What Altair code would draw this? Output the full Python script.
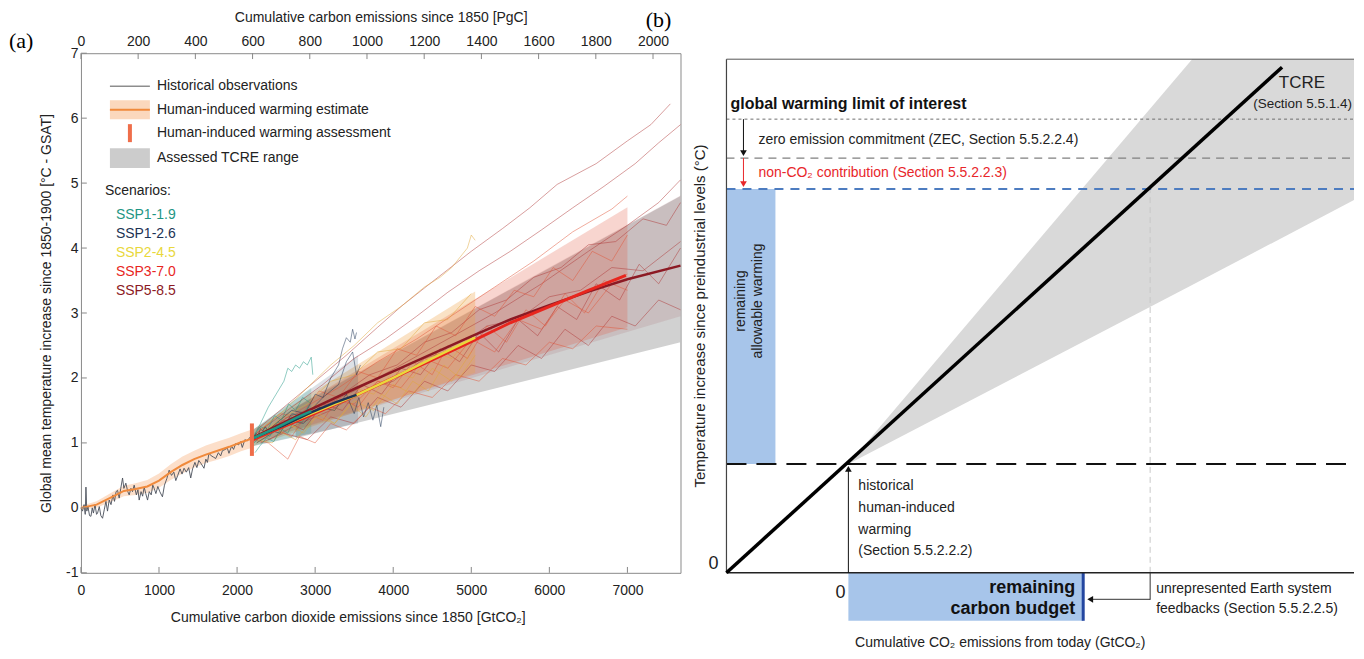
import altair as alt
import pandas as pd

FONT = "Liberation Sans"
NARROW = "Liberation Sans Narrow, Liberation Sans, sans-serif"
SERIF = "Liberation Serif"

# ======================= Panel (a) values =======================
co2_ticks = [0, 1000, 2000, 3000, 4000, 5000, 6000, 7000]
temp_ticks = [-1, 0, 1, 2, 3, 4, 5, 6, 7]
pgc_ticks = [0, 200, 400, 600, 800, 1000, 1200, 1400, 1600, 1800, 2000]
x_max_gtco2 = 7680
gtco2_per_pgc = 3.664

ssp_names = ["SSP1-1.9", "SSP1-2.6", "SSP2-4.5", "SSP3-7.0", "SSP5-8.5"]
ssp_colors = ["#1e9684", "#1d3354", "#e9d83c", "#e8261e", "#8c1a24"]

# historical observations
hist_x = [0, 20, 40, 55, 64, 75, 90, 110, 128, 145, 160, 180, 200, 213, 235, 255, 277, 300, 320, 340,
          362, 385, 410, 430, 450, 469, 490, 510, 533, 550, 575, 600, 618, 640, 660, 682, 710, 730, 746, 770,
          790, 810, 830, 853, 875, 900, 920, 938, 960, 985, 1010, 1044, 1070, 1100, 1130, 1160, 1190, 1215, 1240, 1270,
          1295, 1321, 1350, 1380, 1406, 1430, 1460, 1485, 1510, 1540, 1576, 1600, 1620, 1640, 1670, 1700, 1726, 1760, 1790, 1812,
          1850, 1875, 1896, 1930, 1955, 1982, 2020, 2045, 2067, 2100, 2130, 2152, 2180, 2210, 2240, 2270, 2300, 2330, 2360, 2390]
hist_y = [0.0, -0.05, 0.05, -0.1, 0.32, -0.05, 0.02, -0.12, -0.13, 0.0, -0.08, 0.05, -0.1, -0.08, 0.02, -0.12, -0.16, -0.02, 0.1, -0.05,
          0.12, 0.05, 0.2, 0.1, 0.25, 0.27, 0.15, 0.3, 0.46, 0.3, 0.38, 0.25, 0.2, 0.3, 0.25, 0.35, 0.2, 0.28, 0.12, 0.25,
          0.18, 0.32, 0.22, 0.12, 0.25, 0.2, 0.35, 0.3, 0.22, 0.33, 0.25, 0.17, 0.35, 0.45, 0.58, 0.5, 0.55, 0.42, 0.5, 0.6,
          0.52, 0.61, 0.55, 0.62, 0.46, 0.6, 0.7, 0.62, 0.73, 0.68, 0.61, 0.75, 0.7, 0.84, 0.8, 0.78, 0.76, 0.85, 0.8, 0.88,
          0.9, 0.92, 0.84, 0.95, 0.9, 0.99, 0.97, 1.02, 0.93, 1.05, 1.03, 1.07, 1.1, 1.02, 1.15, 1.12, 1.22, 1.18, 1.25, 1.2]

# human-induced warming estimate and range
hiw_x = [0, 200, 400, 550, 700, 850, 1000, 1150, 1300, 1450, 1600, 1750, 1900, 2050, 2200]
hiw_y = [0.0, 0.05, 0.17, 0.26, 0.29, 0.33, 0.42, 0.55, 0.66, 0.75, 0.82, 0.88, 0.94, 1.01, 1.07]
hiw_lo = [-0.03, 0.0, 0.1, 0.18, 0.2, 0.23, 0.31, 0.43, 0.53, 0.62, 0.69, 0.74, 0.8, 0.87, 0.93]
hiw_hi = [0.03, 0.1, 0.24, 0.34, 0.38, 0.43, 0.53, 0.67, 0.79, 0.88, 0.96, 1.02, 1.08, 1.15, 1.21]

# human-induced warming assessment (bar)
assess_x = [2190]
assess_lo = [0.8]
assess_hi = [1.3]

# assessed TCRE range
tcre_x = [2750, 7680]
tcre_lo = [1.07, 2.55]
tcre_hi = [1.55, 4.8]

# scenario ranges
band119_x = [2200, 2950]
band119_lo = [0.95, 1.15]
band119_hi = [1.2, 1.85]
band126_x = [2200, 3550]
band126_lo = [0.95, 1.3]
band126_hi = [1.2, 2.35]
band245_x = [2200, 5050]
band245_lo = [0.95, 2.08]
band245_hi = [1.2, 3.33]
band370_x = [2200, 7000]
band370_lo = [1.0, 2.78]
band370_hi = [1.15, 4.63]
band585_x = [2200, 7680]
band585_lo = [1.0, 2.95]
band585_hi = [1.2, 4.81]

# scenario means
mean119_x = [2200, 2500, 2750, 2950]
mean119_y = [1.07, 1.23, 1.38, 1.49]
mean126_x = [2200, 2600, 2950, 3250, 3530]
mean126_y = [1.07, 1.27, 1.47, 1.62, 1.74]
mean245_x = [2200, 2950, 3500, 4000, 4500, 5050]
mean245_y = [1.07, 1.45, 1.72, 2.0, 2.3, 2.62]
mean370_x = [2200, 2950, 3500, 4000, 4500, 5000, 5500, 6000, 6500, 6980]
mean370_y = [1.05, 1.43, 1.72, 2.0, 2.28, 2.56, 2.85, 3.1, 3.35, 3.58]
mean585_x = [2200, 2950, 3500, 4000, 4500, 5000, 5500, 6000, 6500, 7000, 7680]
mean585_y = [1.08, 1.52, 1.83, 2.1, 2.37, 2.64, 2.9, 3.12, 3.33, 3.52, 3.73]

# individual model runs
runs119_x = [[2200, 2300, 2400, 2500, 2600, 2650, 2700, 2750, 2800, 2850, 2900, 2950, 2970],
             [2220, 2320, 2420, 2520, 2620, 2720, 2820, 2920],
             [2230, 2290, 2380, 2470, 2560, 2650, 2740, 2830, 2920],
             [2210, 2300, 2390, 2480, 2570, 2660, 2750, 2840, 2930]]
runs119_y = [[1.07, 1.3, 1.55, 1.75, 1.95, 2.15, 2.1, 2.2, 2.15, 2.25, 2.2, 2.32, 2.05],
             [1.0, 1.15, 1.1, 1.32, 1.25, 1.45, 1.38, 1.58],
             [0.85, 0.95, 1.08, 1.02, 1.22, 1.15, 1.38, 1.32, 1.45],
             [1.1, 1.25, 1.2, 1.42, 1.35, 1.6, 1.5, 1.7, 1.62]]
runs126_x = [[2250, 2400, 2550, 2700, 2850, 3000, 3100, 3200, 3300, 3350, 3400, 3450, 3480, 3510, 3530],
             [2250, 2450, 2650, 2850, 3050, 3250, 3400, 3500, 3560, 3620, 3680, 3740, 3790, 3840, 3880],
             [2300, 2500, 2700, 2900, 3100, 3300, 3400, 3480, 3530, 3580]]
runs126_y = [[1.05, 1.2, 1.15, 1.45, 1.4, 1.75, 1.7, 2.0, 2.2, 2.45, 2.62, 2.55, 2.75, 2.6, 2.7],
             [1.0, 1.15, 1.35, 1.3, 1.55, 1.5, 1.75, 1.45, 1.7, 1.4, 1.62, 1.35, 1.58, 1.25, 1.55],
             [1.1, 1.3, 1.5, 1.45, 1.7, 1.9, 2.25, 2.4, 2.05, 2.2]]
runs245_x = [[2300, 2600, 2900, 3200, 3500, 3800, 4100, 4400, 4600, 4750, 4850, 4950, 5000, 5050],
             [2250, 2500, 2750, 3000, 3250, 3500, 3750, 4000, 4250, 4500, 4750, 5000],
             [2250, 2500, 2750, 3000, 3250, 3500, 3750, 4000, 4250, 4500, 4750, 5000],
             [2300, 2600, 2900, 3200, 3500, 3800, 4100, 4400, 4700, 5000],
             [2250, 2450, 2650, 2850, 3050, 3250, 3450, 3650, 3850, 4050, 4250, 4450, 4650, 4850, 5050]]
runs245_y = [[1.2, 1.5, 1.85, 2.2, 2.5, 2.85, 3.1, 3.4, 3.55, 3.7, 3.85, 4.0, 4.2, 4.12],
             [1.1, 1.3, 1.25, 1.6, 1.5, 1.85, 1.75, 2.1, 2.0, 2.4, 2.3, 2.65],
             [1.0, 1.2, 1.05, 1.4, 1.3, 1.65, 1.5, 1.9, 1.75, 2.15, 1.95, 2.4],
             [1.15, 1.4, 1.6, 1.95, 2.05, 2.4, 2.45, 2.85, 2.9, 3.3],
             [1.05, 1.0, 1.3, 1.15, 1.45, 1.3, 1.6, 1.4, 1.75, 1.6, 1.95, 1.8, 2.2, 2.0, 2.35]]
runs370_x = [[2250, 2500, 2700, 2900, 3100, 3300, 3550, 3800, 4000, 4250, 4500, 4700, 4950, 5200, 5450, 5700, 5950, 6200, 6450, 6700, 7000],
             [2250, 2550, 2800, 3050, 3300, 3550, 3800, 4050, 4300, 4550, 4800, 5050, 5300, 5550, 5800, 6050, 6300, 6550, 6800, 7000],
             [2200, 2400, 2650, 2800, 3000, 3200, 3400, 3700, 3900, 4200, 4500, 4800, 5100, 5400, 5700, 6000, 6300, 6600, 7000],
             [2250, 2800, 3300, 3800, 4300, 4800, 5300, 5800, 6300, 6800, 7000],
             [2300, 2600, 2900, 3200, 3500, 3800, 4100, 4400, 4700, 5000, 5300, 5600, 5900, 6200, 6500, 6800, 7000]]
runs370_y = [[1.05, 1.2, 1.1, 1.45, 1.35, 1.7, 1.55, 1.95, 1.85, 2.25, 2.05, 2.5, 2.3, 2.8, 2.55, 3.05, 2.8, 3.3, 3.0, 3.5, 3.35],
             [1.15, 1.45, 1.4, 1.8, 1.7, 2.1, 2.0, 2.45, 2.35, 2.8, 2.65, 3.1, 2.95, 3.35, 3.25, 3.7, 3.5, 3.95, 3.8, 4.2],
             [1.05, 1.0, 0.75, 1.1, 1.0, 1.3, 1.2, 1.55, 1.45, 1.8, 1.7, 2.05, 1.95, 2.3, 2.2, 2.55, 2.45, 2.8, 2.75],
             [1.1, 1.5, 1.85, 2.25, 2.6, 3.0, 3.4, 3.8, 4.25, 4.6, 4.8],
             [1.1, 1.4, 1.35, 1.65, 1.6, 1.95, 1.85, 2.3, 2.15, 2.6, 2.4, 2.9, 2.75, 3.2, 3.0, 3.45, 3.6]]
runs585_x = [[2250, 2600, 3000, 3400, 3800, 4100, 4500, 5000, 5400, 5750, 6100, 6600, 7000, 7300, 7550],
             [2250, 2700, 3100, 3500, 3900, 4300, 4700, 5100, 5500, 5900, 6300, 6700, 7100, 7400, 7680],
             [2300, 2900, 3500, 4100, 4700, 5300, 5900, 6500, 7000, 7400, 7680],
             [2300, 2600, 2850, 3100, 3350, 3600, 3850, 4100, 4350, 4600, 4850, 5100, 5350, 5600, 5850, 6100, 6350, 6600, 6900, 7150, 7400, 7680],
             [2300, 2600, 2900, 3200, 3500, 3800, 4100, 4400, 4700, 5000, 5300, 5600, 5900, 6200, 6500, 6800, 7100, 7400, 7680],
             [2300, 2650, 3000, 3350, 3700, 4050, 4400, 4750, 5100, 5450, 5800, 6150, 6500, 6850, 7200, 7500, 7680],
             [2400, 2800, 3200, 3600, 4000, 4400, 4800, 5200, 5600, 6000, 6400, 6800, 7200, 7680]]
runs585_y = [[1.2, 1.55, 1.95, 2.35, 2.78, 3.1, 3.48, 3.95, 4.3, 4.62, 4.98, 5.3, 5.65, 5.9, 6.22],
             [1.15, 1.55, 1.9, 2.3, 2.6, 2.95, 3.32, 3.65, 3.95, 4.28, 4.62, 4.95, 5.3, 5.62, 5.9],
             [1.1, 1.45, 1.8, 2.2, 2.6, 3.0, 3.45, 3.95, 4.35, 4.7, 5.05],
             [1.1, 1.35, 1.2, 1.6, 1.5, 1.9, 1.75, 2.15, 2.05, 2.45, 2.25, 2.7, 2.4, 2.9, 2.65, 3.1, 2.9, 3.45, 3.2, 3.75, 3.45, 4.0],
             [1.0, 1.15, 1.05, 1.4, 1.3, 1.7, 1.55, 1.95, 1.8, 2.2, 2.1, 2.5, 2.3, 2.75, 2.5, 2.95, 2.8, 3.2, 3.05],
             [1.12, 1.4, 1.55, 1.75, 2.05, 2.2, 2.55, 2.7, 3.05, 3.2, 3.55, 3.7, 4.05, 4.1, 4.45, 4.35, 4.7],
             [1.05, 1.3, 1.5, 1.8, 1.95, 2.3, 2.45, 2.8, 2.9, 3.25, 3.35, 3.7, 3.65, 4.1]]

legend_labels = ["Historical observations", "Human-induced warming estimate",
                 "Human-induced warming assessment", "Assessed TCRE range"]

# ======================= Panel (b) values (schematic units) =======================
b_x_domain = [-1.22, 5.06]
b_y_domain = [0.0, 5.20]
b_box_top = 5.14
b_tcre_x = [-1.22, 4.34]
b_tcre_y = [0.0, 5.06]
b_cone_x = [0.0, 3.44, 5.06]
b_cone_lo = [1.09, 2.88, 3.73]
b_cone_hi = [1.09, 5.14, 5.14]
b_level_limit = 4.54
b_level_zec = 4.15
b_level_budget = 3.84
b_level_hist = 1.09
b_budget_end = 2.35
b_feedback_x = 3.02
b_budget_depth = -0.48

# ======================= Panel (a) chart =======================
xs = alt.Scale(domain=[0, x_max_gtco2], nice=False, zero=False)
ys = alt.Scale(domain=[-1, 7], nice=False, zero=False)
x_axis = alt.Axis(values=co2_ticks, labelExpr="'' + datum.value", labelFlush=False,
                  title="Cumulative carbon dioxide emissions since 1850 [GtCO₂]",
                  ticks=False, domain=False, grid=False, labelFontSize=14, labelPadding=11,
                  labelColor="#222", titleFontSize=14, titleFontWeight="normal", titleColor="#222",
                  titlePadding=13, titleX=267, labelFont=FONT, titleFont=FONT)
y_axis = alt.Axis(values=temp_ticks, labelExpr="'' + datum.value",
                  title="Global mean temperature increase since 1850-1900 [°C - GSAT]",
                  ticks=False, domain=False, grid=False, labelFontSize=14, labelPadding=3,
                  labelColor="#222", titleFontSize=14, titleFontWeight="normal", titleColor="#222",
                  titlePadding=12, labelFont=FONT, titleFont=FONT)


def XE(field="X"):
    return alt.X(f"{field}:Q", scale=xs, axis=x_axis)


def YE(field="Y"):
    return alt.Y(f"{field}:Q", scale=ys, axis=y_axis)


def band(xv, lo, hi, color, opacity):
    df = pd.DataFrame({"X": xv, "Y": lo, "Y2": hi})
    return alt.Chart(df).mark_area(color=color, opacity=opacity).encode(x=XE(), y=YE(), y2="Y2:Q")


def line(xv, yv, color, width, opacity=1.0):
    df = pd.DataFrame({"X": xv, "Y": yv, "i": list(range(len(xv)))})
    return alt.Chart(df).mark_line(color=color, strokeWidth=width, opacity=opacity).encode(
        x=XE(), y=YE(), order="i:Q")


def runs(rx, ry, color, tag):
    rows = []
    for k, (xx, yy) in enumerate(zip(rx, ry)):
        for i, (a, b) in enumerate(zip(xx, yy)):
            rows.append({"X": a, "Y": b, "run": f"{tag}{k}", "i": i})
    df = pd.DataFrame(rows)
    return alt.Chart(df).mark_line(color=color, strokeWidth=0.9, opacity=0.55).encode(
        x=XE(), y=YE(), detail="run:N", order="i:Q")


a_layers = [
    band(hiw_x, hiw_lo, hiw_hi, "#f8b98a", 0.45),
    band(tcre_x, tcre_lo, tcre_hi, "#bdbdbd", 0.7),
    band(band585_x, band585_lo, band585_hi, ssp_colors[4], 0.1),
    band(band370_x, band370_lo, band370_hi, "#e4583e", 0.25),
    band(band245_x, band245_lo, band245_hi, "#f0a040", 0.3),
    band(band126_x, band126_lo, band126_hi, ssp_colors[1], 0.15),
    band(band119_x, band119_lo, band119_hi, ssp_colors[0], 0.2),
    line(hist_x, hist_y, "#4a4f5a", 0.9),
    runs(runs585_x, runs585_y, "#b03a3a", "r585_"),
    runs(runs370_x, runs370_y, "#e0553a", "r370_"),
    runs(runs245_x, runs245_y, "#e0a83a", "r245_"),
    runs(runs126_x, runs126_y, ssp_colors[1], "r126_"),
    runs(runs119_x, runs119_y, ssp_colors[0], "r119_"),
    line(hiw_x, hiw_y, "#f08a3c", 2),
    line(mean585_x, mean585_y, ssp_colors[4], 2.5),
    line(mean370_x, mean370_y, ssp_colors[3], 3),
    line(mean245_x, mean245_y, ssp_colors[2], 2.5),
    line(mean126_x, mean126_y, ssp_colors[1], 2.5),
    line(mean119_x, mean119_y, ssp_colors[0], 2.5),
]

# assessment bar
assess_df = pd.DataFrame({"X": assess_x, "Y": assess_lo, "Y2": assess_hi})
a_layers.append(alt.Chart(assess_df).mark_rule(color="#ef6e4a", strokeWidth=4).encode(
    x=XE(), y=YE(), y2="Y2:Q"))

# inward ticks
bt = pd.DataFrame({"X": co2_ticks, "Y": [-1] * len(co2_ticks), "Y2": [-0.91] * len(co2_ticks)})
a_layers.append(alt.Chart(bt).mark_rule(color="#888", strokeWidth=1).encode(x=XE(), y=YE(), y2="Y2:Q"))
lt = pd.DataFrame({"X": [0] * len(temp_ticks), "X2": [75] * len(temp_ticks), "Y": temp_ticks})
a_layers.append(alt.Chart(lt).mark_rule(color="#888", strokeWidth=1).encode(x=XE(), x2="X2:Q", y=YE()))

# legend (pixel positions relative to plot area)
one = pd.DataFrame({"k": [0]})


def ptext(txt, x, y, size=14, color="#222", align="left", font=FONT):
    return alt.Chart(one).mark_text(text=txt, fontSize=size, color=color, align=align,
                                    baseline="middle", font=font).encode(x=alt.value(x), y=alt.value(y))


a_layers.append(alt.Chart(one).mark_rule(color="#555", strokeWidth=1).encode(
    x=alt.value(29), x2=alt.value(69), y=alt.value(33)))
a_layers.append(alt.Chart(one).mark_rect(color="#fbd8bd").encode(
    x=alt.value(29), x2=alt.value(69), y=alt.value(47), y2=alt.value(66)))
a_layers.append(alt.Chart(one).mark_rule(color="#f08a3c", strokeWidth=2).encode(
    x=alt.value(29), x2=alt.value(69), y=alt.value(56.5)))
a_layers.append(alt.Chart(one).mark_rule(color="#ef6e4a", strokeWidth=4).encode(
    x=alt.value(49), y=alt.value(71), y2=alt.value(89)))
a_layers.append(alt.Chart(one).mark_rect(color="#cccccc").encode(
    x=alt.value(29), x2=alt.value(69), y=alt.value(95), y2=alt.value(115)))
for lab, yy in zip(legend_labels, [33, 56.5, 80, 105]):
    a_layers.append(ptext(lab, 76, yy))
a_layers.append(ptext("Scenarios:", 24, 138))
for name, col, yy in zip(ssp_names, ssp_colors, [161.5, 181, 200, 219, 238]):
    a_layers.append(ptext(name, 35, yy, color=col))

# panel labels
a_layers.append(ptext("(a)", -72, -12, size=22, font=SERIF, color="#000"))

main_a = alt.layer(*a_layers)

top_axis = alt.Axis(orient="top", values=pgc_ticks, labelExpr="'' + datum.value", labelFlush=False,
                    title="Cumulative carbon emissions since 1850 [PgC]", ticks=False, domain=False,
                    grid=False, labelFontSize=14, labelPadding=5, labelColor="#222", titleFontSize=14,
                    titleFontWeight="normal", titleColor="#222", titlePadding=10,
                    labelFont=FONT, titleFont=FONT)
tt = pd.DataFrame({"P": pgc_ticks, "Y": [7] * len(pgc_ticks), "Y2": [6.91] * len(pgc_ticks)})
top_a = alt.Chart(tt).mark_rule(color="#888", strokeWidth=1).encode(
    x=alt.X("P:Q", scale=alt.Scale(domain=[0, x_max_gtco2 / gtco2_per_pgc], nice=False, zero=False),
            axis=top_axis),
    y=YE(), y2="Y2:Q")

panel_a = alt.layer(main_a, top_a).resolve_scale(x="independent").properties(
    width=600, height=520, view=alt.ViewBackground(stroke="#8a8a8a", strokeWidth=1))

# ======================= Panel (b) chart =======================
xsb = alt.Scale(domain=b_x_domain, nice=False, zero=False)
ysb = alt.Scale(domain=b_y_domain, nice=False, zero=False)


def XB(field="X"):
    return alt.X(f"{field}:Q", scale=xsb, axis=None)


def YB(field="Y"):
    return alt.Y(f"{field}:Q", scale=ysb, axis=None)


def hrule(y, x0, x1, color, width, dash=None):
    df = pd.DataFrame({"X": [x0], "X2": [x1], "Y": [y]})
    kw = dict(color=color, strokeWidth=width)
    if dash:
        kw["strokeDash"] = dash
    return alt.Chart(df).mark_rule(**kw).encode(x=XB(), x2="X2:Q", y=YB())


def vrule(x, y0, y1, color, width, dash=None):
    df = pd.DataFrame({"X": [x], "Y": [y0], "Y2": [y1]})
    kw = dict(color=color, strokeWidth=width)
    if dash:
        kw["strokeDash"] = dash
    return alt.Chart(df).mark_rule(**kw).encode(x=XB(), y=YB(), y2="Y2:Q")


def brect(x0, x1, y0, y1, color):
    df = pd.DataFrame({"X": [x0], "X2": [x1], "Y": [y0], "Y2": [y1]})
    return alt.Chart(df).mark_rect(color=color).encode(x=XB(), x2="X2:Q", y=YB(), y2="Y2:Q")


def head(x, y, shape, color, size=45):
    df = pd.DataFrame({"X": [x], "Y": [y]})
    return alt.Chart(df).mark_point(shape=shape, filled=True, color=color, size=size, opacity=1).encode(
        x=XB(), y=YB())


def btext(txt, x, y, size=14, align="left", weight="normal", color="#222", font=NARROW, angle=None):
    df = pd.DataFrame({"X": [x], "Y": [y]})
    kw = dict(text=txt, fontSize=size, align=align, fontWeight=weight, color=color, font=font,
              baseline="middle")
    if angle is not None:
        kw["angle"] = angle
    return alt.Chart(df).mark_text(**kw).encode(x=XB(), y=YB())


xl, xr = b_x_domain
cone_df = pd.DataFrame({"X": b_cone_x, "Y": b_cone_lo, "Y2": b_cone_hi})
tcre_df = pd.DataFrame({"X": b_tcre_x, "Y": b_tcre_y})
BLUE = "#a7c5ea"

b_layers = [
    alt.Chart(cone_df).mark_area(color="#d9d9d9").encode(x=XB(), y=YB(), y2="Y2:Q"),
    brect(xl, -0.73, b_level_hist, b_level_budget, BLUE),
    brect(0, b_budget_end, b_budget_depth, 0, BLUE),
    vrule(b_budget_end, b_budget_depth, 0, "#2346a0", 3),
    vrule(b_feedback_x, 0, b_level_budget, "#c8c8c8", 1, [6, 4]),
    hrule(b_level_limit, xl, xr, "#6e6e6e", 1, [3, 3]),
    hrule(b_level_zec, xl, xr, "#808080", 1.2, [8, 6]),
    hrule(b_level_budget, xl, xr, "#4d7cc0", 2, [9, 7]),
    hrule(b_level_hist, xl, xr, "#111111", 2, [20, 10]),
    hrule(b_box_top, xl, xr, "#555555", 1),
    vrule(xl, 0, b_box_top, "#444444", 1.2),
    hrule(0, xl, xr, "#222222", 1.6),
    alt.Chart(tcre_df).mark_line(color="#000", strokeWidth=3.5).encode(x=XB(), y=YB()),
    # arrows
    vrule(-1.05, b_level_limit, b_level_zec + 0.06, "#111", 1),
    head(-1.05, b_level_zec + 0.05, "triangle-down", "#111"),
    vrule(-1.05, b_level_zec, b_level_budget + 0.06, "#e8262a", 1),
    head(-1.05, b_level_budget + 0.05, "triangle-down", "#e8262a"),
    vrule(0, 0, b_level_hist - 0.06, "#111", 1),
    head(0, b_level_hist - 0.05, "triangle-up", "#111"),
    vrule(b_feedback_x, -0.27, 0, "#333", 1),
    hrule(-0.265, b_budget_end + 0.08, b_feedback_x, "#333", 1),
    head(b_budget_end + 0.07, -0.265, "triangle-left", "#111"),
    # texts
    btext("TCRE", 4.77, 4.90, size=17, align="right"),
    btext("(Section 5.5.1.4)", 5.04, 4.69, size=13.5, align="right"),
    btext("global warming limit of interest", -1.18, 4.69, size=16, weight="bold", color="#111"),
    btext("zero emission commitment (ZEC, Section 5.5.2.2.4)", -0.90, 4.33),
    btext("non-CO₂ contribution (Section 5.5.2.2.3)", -0.90, 4.00, color="#e8262a"),
    btext("remaining", -1.07, 2.72, size=14, align="center", angle=270),
    btext("allowable warming", -0.90, 2.72, size=14, align="center", angle=270),
    btext("historical", 0.10, 0.87),
    btext("human-induced", 0.10, 0.65),
    btext("warming", 0.10, 0.43),
    btext("(Section 5.5.2.2.2)", 0.10, 0.22),
    btext("remaining", 2.27, -0.15, size=18, align="right", weight="bold", color="#111"),
    btext("carbon budget", 2.27, -0.36, size=18, align="right", weight="bold", color="#111"),
    btext("unrepresented Earth system", 3.08, -0.16),
    btext("feedbacks (Section 5.5.2.2.5)", 3.08, -0.36),
    btext("0", -0.08, -0.20, size=18, align="center"),
    btext("0", -1.35, 0.09, size=18, align="center"),
    btext("Cumulative CO₂ emissions from today (GtCO₂)", 1.52, -0.70, size=14, align="center"),
    btext("Temperature increase since preindustrial levels (°C)", -1.48, 2.57, size=15,
          align="center", font=FONT, angle=270),
    btext("(b)", -1.90, 5.53, size=22, align="center", font=SERIF, color="#000"),
]

panel_b = alt.layer(*b_layers).properties(
    width=628, height=520, view=alt.ViewBackground(stroke="transparent"))

chart = alt.HConcatChart(hconcat=[panel_a, panel_b], spacing=46, bounds="flush",
                         padding=0).configure(font=FONT)

chart.save("out.html", embed_options={"renderer": "svg", "actions": False})
